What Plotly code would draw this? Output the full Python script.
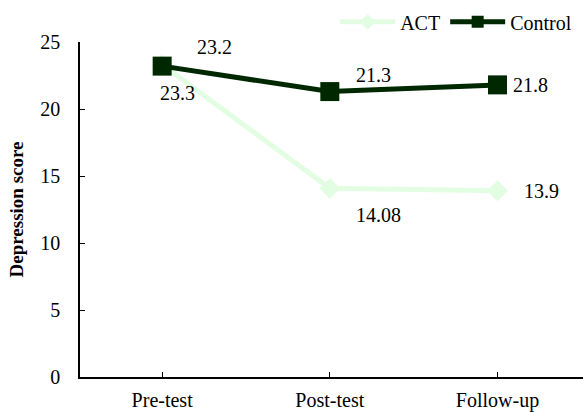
import plotly.graph_objects as go

categories = ["Pre-test", "Post-test", "Follow-up"]
act_values = [23.3, 14.08, 13.9]
control_values = [23.2, 21.3, 21.8]
act_labels = ["23.3", "14.08", "13.9"]
control_labels = ["23.2", "21.3", "21.8"]
y_ticks = [0, 5, 10, 15, 20, 25]

FONT = "Liberation Serif, Times New Roman, serif"
ACT_COLOR = "#e3fde3"
CTRL_COLOR = "#002800"
FS = 20

fig = go.Figure()
fig.add_trace(go.Scatter(
    x=categories, y=act_values, name="ACT", mode="lines+markers",
    line=dict(color=ACT_COLOR, width=5),
    marker=dict(symbol="diamond", size=16, color=ACT_COLOR),
))
fig.add_trace(go.Scatter(
    x=categories, y=control_values, name="Control", mode="lines+markers",
    line=dict(color=CTRL_COLOR, width=5),
    marker=dict(symbol="square", size=19, color=CTRL_COLOR),
))

# label offsets (pixels)
act_shifts = [(15, -28), (49, -27), (44, 0)]
ctrl_shifts = [(52, 19), (44, 17), (33, 0)]
for cat, v, lab, (dx, dy) in zip(categories, act_values, act_labels, act_shifts):
    fig.add_annotation(x=cat, y=v, text=lab, showarrow=False, xshift=dx, yshift=dy,
                       font=dict(family=FONT, size=FS, color="black"))
for cat, v, lab, (dx, dy) in zip(categories, control_values, control_labels, ctrl_shifts):
    fig.add_annotation(x=cat, y=v, text=lab, showarrow=False, xshift=dx, yshift=dy,
                       font=dict(family=FONT, size=FS, color="black"))

fig.update_layout(
    width=583, height=412,
    margin=dict(l=80, r=0, t=42, b=35),
    paper_bgcolor="white", plot_bgcolor="white",
    font=dict(family=FONT, size=FS, color="black"),
    legend=dict(orientation="h", x=0.99, xanchor="right", xref="container",
                y=0.947, yanchor="middle", yref="container",
                font=dict(family=FONT, size=FS), itemwidth=55, itemsizing="constant",
                bgcolor="rgba(0,0,0,0)", tracegroupgap=0),
    showlegend=True,
)
fig.update_xaxes(
    range=[-0.49, 2.51], showline=True, linecolor="black", linewidth=1.5,
    ticks="inside", ticklen=5, tickcolor="black", showgrid=False,
    tickfont=dict(family=FONT, size=FS), zeroline=False, automargin=False,
    ticklabelstandoff=4,
)
fig.update_yaxes(
    range=[0, 25], tickvals=y_ticks, showline=True, linecolor="black", linewidth=1.5,
    ticks="inside", ticklen=5, tickcolor="black", showgrid=False, zeroline=False,
    tickfont=dict(family=FONT, size=FS), automargin=False, ticklabelstandoff=14,
    title=dict(text="<b>Depression score</b>", font=dict(family=FONT, size=19), standoff=12),
)

fig.write_html("out.html", config={"displayModeBar": False},
               post_script="document.body.style.margin='0';")
